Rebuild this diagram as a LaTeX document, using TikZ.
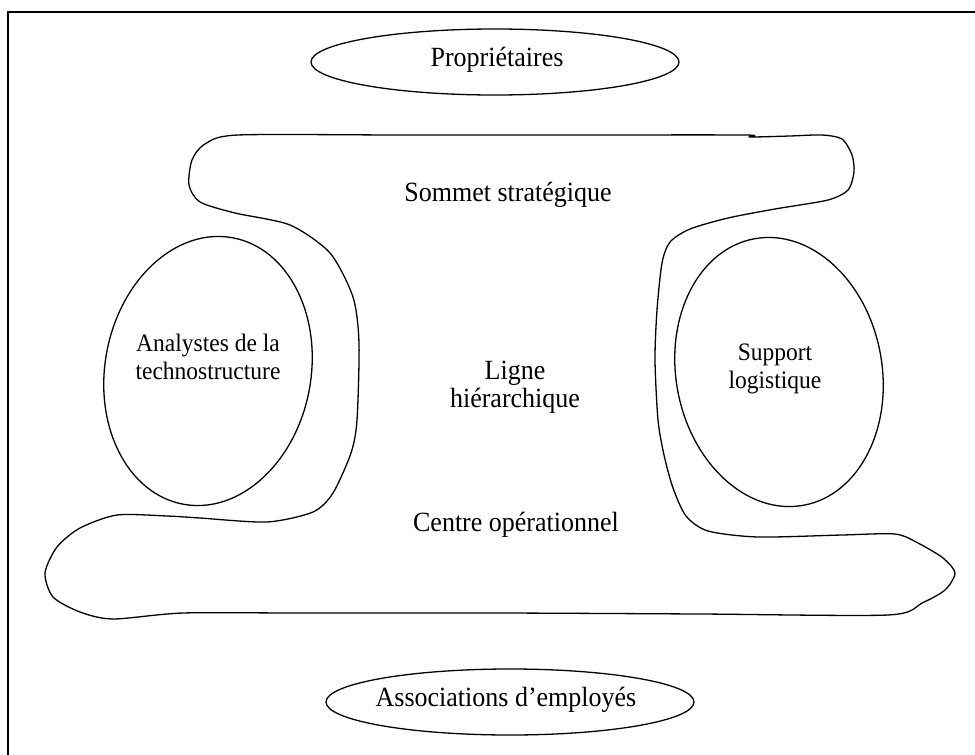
\documentclass[tikz,border=0pt]{standalone}
\usepackage{fontspec}
\setmainfont{Liberation Serif}
\usetikzlibrary{shapes.geometric}

\tikzset{
  blob/.style={draw, line width=1.3pt, line join=round},
  oval/.style={ellipse, draw, line width=1.3pt, inner sep=0pt, minimum width=368pt, minimum height=66pt},
  egg/.style={ellipse, draw, line width=1.3pt, inner sep=0pt, minimum width=206pt, minimum height=271pt},
  lbl/.style={font=\fontsize{26}{26.5}\selectfont, align=center, inner sep=0pt, yscale=1.07, transform shape},
  small/.style={lbl, font=\fontsize{23.5}{26}\selectfont}
}

\begin{document}
\begin{tikzpicture}[x=1pt, y=-1pt]
\useasboundingbox (0,0) rectangle (975,755);
\draw[line width=1.2pt] (980,12) -- (8,12) -- (8,760);

\draw[blob] plot[smooth cycle, tension=0.45] coordinates {
  (238,135) (400,135) (560,135) (744,135) (750,137) (790,136) (822,135)
  (842,139) (852,155) (854,172) (848,190) (828,200) (775,209) (728,218)
  (690,229) (670,242) (662,263) (657,310) (655,360) (658,420) (664,455)
  (673,488) (686,516) (708,531) (758,537) (842,535) (895,534) (918,543)
  (943,558) (955,573) (945,590) (922,603) (888,615) (700,614) (500,613)
  (300,613) (183,613) (113,619) (80,612) (53,597) (45,573) (57,547)
  (80,528) (117,515) (167,516) (200,518) (267,522) (313,512) (333,493)
  (351,453) (357,420) (359,343) (353,297) (330,253) (290,225) (235,213)
  (200,202) (189,185) (192,160) (205,144)};

\node[oval] (proprio) at (495,62) {};
\node[lbl] (propriotxt) at (497,60) {Propriétaires};
\node[oval] (assoc) at (510,702) {};
\node[lbl] (assoctxt) at (506,700) {Associations d’employés};

\node[egg, rotate=-10.5] (analystes) at (208,371) {};
\node[small] (analystestxt) at (208,357) {Analystes de la\\technostructure};
\node[egg, rotate=10.5] (support) at (779,372) {};
\node[small] (supporttxt) at (775,369) {Support\\logistique};

\node[lbl] (sommet) at (508,195) {Sommet stratégique};
\node[lbl] (ligne) at (515,387) {Ligne\\hiérarchique};
\node[lbl] (centre) at (516,525) {Centre opérationnel};
\end{tikzpicture}
\end{document}
